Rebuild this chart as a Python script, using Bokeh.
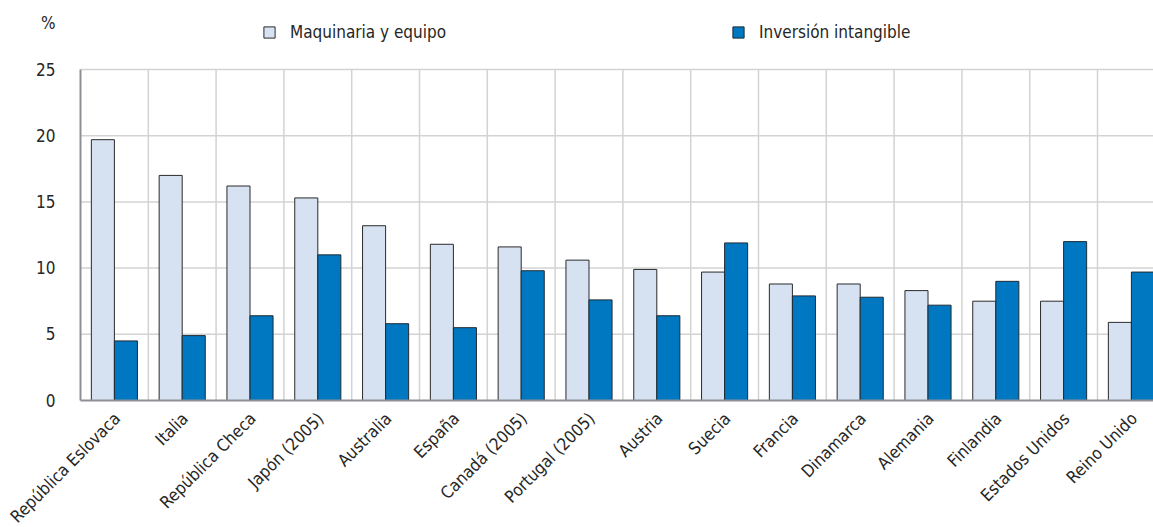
import numpy as np
from bokeh.plotting import figure
from bokeh.models import (ColumnDataSource, Range1d, FixedTicker, Legend, LegendItem)
from bokeh.transform import dodge
from bokeh.embed import file_html
from bokeh.resources import INLINE

countries = ["República Eslovaca", "Italia", "República Checa", "Japón (2005)", "Australia",
             "España", "Canadá (2005)", "Portugal (2005)", "Austria", "Suecia", "Francia",
             "Dinamarca", "Alemania", "Finlandia", "Estados Unidos", "Reino Unido"]
maquinaria = [19.7, 17.0, 16.2, 15.3, 13.2, 11.8, 11.6, 10.6, 9.9, 9.7, 8.8, 8.8, 8.3, 7.5, 7.5, 5.9]
intangible = [4.5, 4.9, 6.4, 11.0, 5.8, 5.5, 9.8, 7.6, 6.4, 11.9, 7.9, 7.8, 7.2, 9.0, 12.0, 9.7]
y_ticks = [0, 5, 10, 15, 20, 25]
legend_labels = ["Maquinaria y equipo", "Inversión intangible"]
unit_label = "%"

FONT = "'DejaVu Sans Condensed', 'DejaVu Sans', sans-serif"
TXT = "#262626"
AXIS = "#8e8f94"
GRID = "#d3d3d3"

# layout (pixels)
W, H = 1153, 527
LEFT = 80               # pixel column of the value axis
ZERO_PX = 400           # pixel row of the zero line
PX_PER_UNIT = 13.24
PX_PER_CAT = 67.8
Y_START = -(H - ZERO_PX) / PX_PER_UNIT
Y_END = ZERO_PX / PX_PER_UNIT
X_START = -LEFT / PX_PER_CAT
X_END = (W - LEFT) / PX_PER_CAT
UNIT_LABEL_Y = (ZERO_PX - 22) / PX_PER_UNIT

n = len(countries)
centers = np.arange(n) + 0.5
src = ColumnDataSource(dict(x=centers, m=maquinaria, i=intangible))
vgrid = ColumnDataSource(dict(x=np.arange(1, n), y0=np.zeros(n - 1),
                              y1=np.full(n - 1, y_ticks[-1])))
hgrid = ColumnDataSource(dict(y=y_ticks[1:], x0=np.zeros(len(y_ticks) - 1),
                              x1=np.full(len(y_ticks) - 1, X_END)))

p = figure(width=W, height=H, output_backend="svg", toolbar_location=None, title=None,
           x_range=Range1d(X_START, X_END), y_range=Range1d(Y_START, Y_END),
           min_border_left=0, min_border_right=0, min_border_top=0, min_border_bottom=0)
p.outline_line_color = None
p.xgrid.visible = False
p.ygrid.visible = False

# grid lines (inside the plotting area only)
p.segment(x0="x", y0="y0", x1="x", y1="y1", source=vgrid, line_color=GRID, line_width=1.5)
p.segment(x0="x0", y0="y", x1="x1", y1="y", source=hgrid, line_color=GRID, line_width=1.5)
# left axis line
p.segment(x0=[0], y0=[0], x1=[0], y1=[y_ticks[-1]], line_color=AXIS, line_width=2)

r1 = p.vbar(x=dodge("x", -0.17), top="m", width=0.34, source=src,
            fill_color="#d6e2f1", line_color="#2a2a2a", line_width=1)
r2 = p.vbar(x=dodge("x", 0.17), top="i", width=0.34, source=src,
            fill_color="#0077c1", line_color="#1f2a33", line_width=1)

# category axis, drawn at zero
label_ticks = centers + 0.04
xa = p.xaxis[0]
xa.fixed_location = 0
xa.bounds = (0, X_END)
xa.ticker = FixedTicker(ticks=list(label_ticks))
xa.major_label_overrides = {float(c): nm for c, nm in zip(label_ticks, countries)}
xa.major_label_orientation = np.pi / 4
xa.major_label_standoff = 15
xa.axis_line_color = AXIS
xa.axis_line_width = 2

# value axis, drawn at the first category edge
ya = p.yaxis[0]
ya.fixed_location = 0
ya.ticker = FixedTicker(ticks=y_ticks + [UNIT_LABEL_Y])
ya.major_label_overrides = {float(UNIT_LABEL_Y): unit_label}
ya.axis_line_color = None
ya.major_label_standoff = 25
for ax in (xa, ya):
    ax.major_tick_out = 0
    ax.major_tick_in = 0
    ax.minor_tick_out = 0
    ax.minor_tick_in = 0
    ax.major_label_text_font = FONT
    ax.major_label_text_color = TXT
    ax.major_label_text_font_size = "17px"

legend = Legend(items=[LegendItem(label=legend_labels[0], renderers=[r1]),
                       LegendItem(label=legend_labels[1], renderers=[r2])],
                location=(262, H - 42), orientation="horizontal", padding=0, margin=0, spacing=0,
                glyph_width=14, glyph_height=14, label_standoff=14,
                label_width=441, label_height=14, border_line_alpha=0, background_fill_alpha=0,
                label_text_font=FONT, label_text_font_size="17px", label_text_color=TXT)
p.add_layout(legend, "center")

open("out.html", "w").write(file_html(p, INLINE))
